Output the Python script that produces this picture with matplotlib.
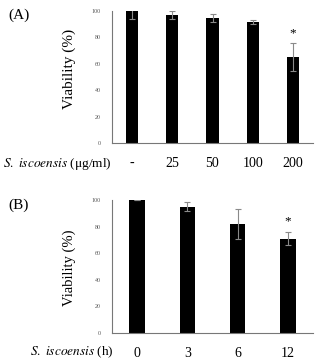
import matplotlib
matplotlib.use("Agg")
import matplotlib.pyplot as plt

plt.rcParams['font.family'] = ['Liberation Serif', 'DejaVu Serif']
plt.rcParams['mathtext.fontset'] = 'stix'

# Panel A data
cats_a = ["-", "25", "50", "100", "200"]
vals_a = [100, 97, 94.5, 92, 65]
errs_a = [6, 3, 3, 1.5, 10.5]
star_a = [None, None, None, None, 83]

# Panel B data
cats_b = ["0", "3", "6", "12"]
vals_b = [100, 95, 82, 71]
errs_b = [0, 3.5, 11, 5]
star_b = [None, None, None, 84]

yticks = [0, 20, 40, 60, 80, 100]

W, H = 315, 359
fig = plt.figure(figsize=(W / 100, H / 100), dpi=100)

def fx(px):
    return px / W

def fy(py):
    return 1 - py / H

def panel(rect, cats, vals, errs, stars, width, xlabel_text, label_x_px, label_y_px,
          letter, letter_y_px, ylab_size, ylab_y):
    ax = fig.add_axes(rect)
    x = list(range(len(cats)))
    ax.bar(x, vals, width=width, color='black', zorder=2)
    ax.errorbar(x, vals, yerr=errs, fmt='none', ecolor='#8a8a8a', elinewidth=0.8,
                capsize=2, capthick=0.8, zorder=3)
    for xi, s in zip(x, stars):
        if s is not None:
            ax.text(xi, s, "*", ha='center', va='center', fontsize=9.5)
    ax.set_xlim(-0.5, len(cats) - 0.5)
    ax.set_ylim(0, 100)
    ax.set_yticks(yticks)
    ax.set_yticklabels([str(t) for t in yticks], fontsize=4.3, color='#555555')
    ax.set_xticks(x)
    ax.set_xticklabels(cats, fontsize=10)
    ax.tick_params(axis='y', length=0, pad=8)
    ax.tick_params(axis='x', length=0, pad=10)
    for sp in ['top', 'right']:
        ax.spines[sp].set_visible(False)
    for sp in ['left', 'bottom']:
        ax.spines[sp].set_color('#777777')
        ax.spines[sp].set_linewidth(0.8)
    ax.set_ylabel("Viability (%)", fontsize=ylab_size)
    ax.yaxis.set_label_coords((76 - 112) / 201, ylab_y)
    fig.text(fx(label_x_px), fy(label_y_px), xlabel_text, fontsize=9.6, ha='left', va='center')
    fig.text(fx(8), fy(letter_y_px), letter, fontsize=11, ha='left', va='center')
    return ax

axA = panel([fx(112), fy(143), fx(313) - fx(112), fy(11) - fy(143)],
            cats_a, vals_a, errs_a, star_a, 0.3,
            r"$\mathit{S.\ iscoensis}$ (μg/ml)", 3, 164, "(A)", 15, 11, 0.56)
axB = panel([fx(112), fy(333), fx(313) - fx(112), fy(200) - fy(333)],
            cats_b, vals_b, errs_b, star_b, 0.31,
            r"$\mathit{S.\ iscoensis}$ (h)", 30, 352, "(B)", 205, 10.5, 0.49)

fig.savefig("out.png", dpi=100)
